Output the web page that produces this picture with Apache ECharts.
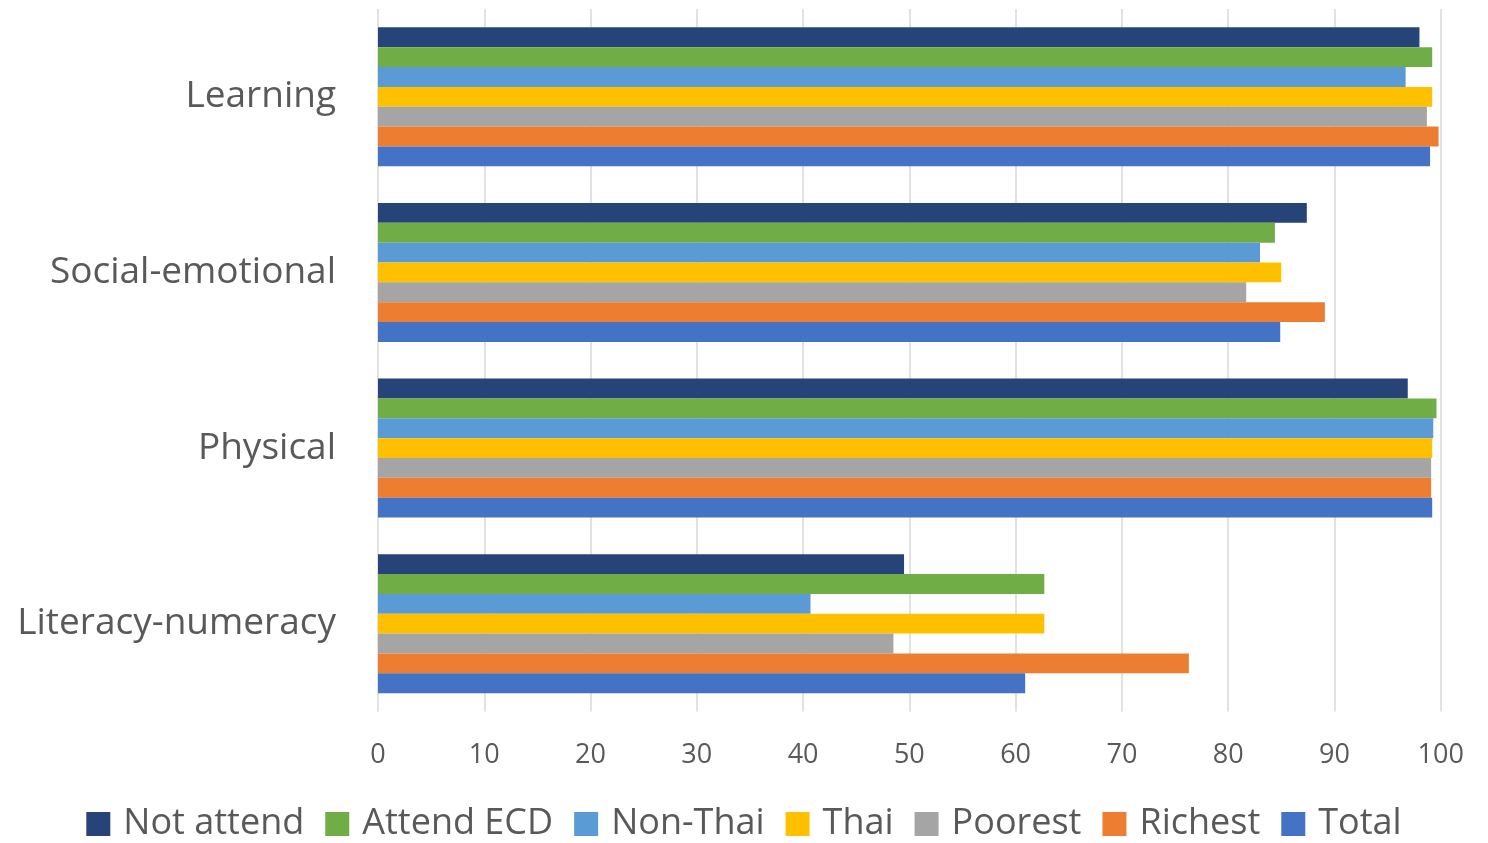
<!DOCTYPE html>
<html>
<head>
<meta charset="utf-8">
<script src="https://cdn.jsdelivr.net/npm/echarts@6/dist/echarts.min.js"></script>
<style>
html,body{margin:0;padding:0;background:#fff;}
#chart{width:1488px;height:843px;}
</style>
</head>
<body>
<div id="chart"></div>
<script>
const categories = ['Learning', 'Social-emotional', 'Physical', 'Literacy-numeracy'];
const seriesNames = ['Not attend', 'Attend ECD', 'Non-Thai', 'Thai', 'Poorest', 'Richest', 'Total'];
const notAttend = [98.0, 87.4, 96.9, 49.5];
const attendECD = [99.2, 84.4, 99.6, 62.7];
const nonThai = [96.7, 83.0, 99.3, 40.7];
const thai = [99.2, 85.0, 99.2, 62.7];
const poorest = [98.7, 81.7, 99.1, 48.5];
const richest = [99.8, 89.1, 99.1, 76.3];
const total = [99.0, 84.9, 99.2, 60.9];
const xTicks = [0, 10, 20, 30, 40, 50, 60, 70, 80, 90, 100];

const values = [notAttend, attendECD, nonThai, thai, poorest, richest, total];
const colors = ['#264478', '#70AD47', '#5B9BD5', '#FFC000', '#A5A5A5', '#ED7D31', '#4472C4'];
const textColor = '#595959';
const font = '"Open Sans", "Noto Sans", sans-serif';

const chart = echarts.init(document.getElementById('chart'), null, {renderer: 'canvas'});
chart.setOption({
  animation: false,
  backgroundColor: '#ffffff',
  textStyle: {fontFamily: font},
  grid: {left: 378, right: 47.3, top: 9, bottom: 131.5, containLabel: false},
  legend: {
    data: seriesNames,
    left: 'center',
    top: 801,
    icon: 'rect',
    itemWidth: 24,
    itemHeight: 24,
    itemGap: 21,
    textStyle: {fontSize: 36, color: textColor, fontFamily: font, padding: [0, 0, 0, 8]}
  },
  xAxis: {
    type: 'value',
    min: xTicks[0],
    max: xTicks[xTicks.length - 1],
    interval: 10,
    axisLine: {show: false},
    axisTick: {show: false},
    axisLabel: {fontSize: 27, color: textColor, margin: 30, fontFamily: font},
    splitLine: {show: true, lineStyle: {color: '#D9D9D9', width: 1.5}}
  },
  yAxis: {
    type: 'category',
    data: categories,
    inverse: true,
    axisLine: {show: false},
    axisTick: {show: false},
    axisLabel: {fontSize: 37, color: textColor, margin: 42, fontFamily: font}
  },
  series: seriesNames.map((name, i) => ({
    name: name,
    type: 'bar',
    data: values[i],
    barGap: '0%',
    barCategoryGap: '20.8%',
    itemStyle: {color: colors[i]}
  }))
});
</script>
</body>
</html>
